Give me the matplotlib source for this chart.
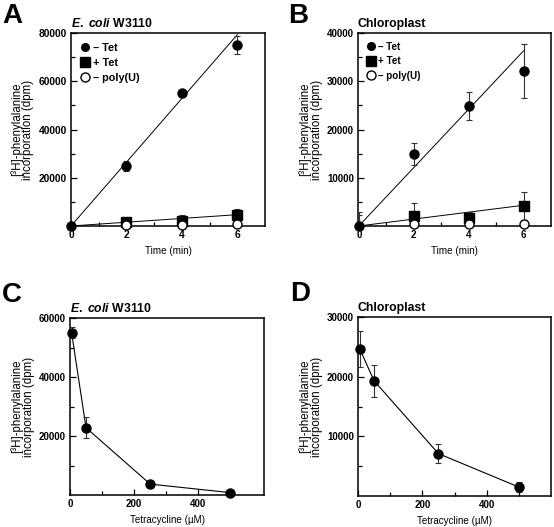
import numpy as np
import matplotlib.pyplot as plt
from matplotlib.lines import Line2D

plt.rcParams['font.family'] = ['Liberation Sans', 'DejaVu Sans']
plt.rcParams['font.weight'] = 'bold'
plt.rcParams['mathtext.fontset'] = 'custom'
plt.rcParams['mathtext.it'] = 'Liberation Sans:italic:bold'
plt.rcParams['mathtext.rm'] = 'Liberation Sans:bold'

# A: E. coli W3110, time course
time = [0, 2, 4, 6]
a_minus_tet = [0, 25000, 55000, 75000]
a_minus_tet_err = [0, 2000, 1500, 3800]
a_plus_tet = [0, 1800, 2000, 4500]
a_plus_tet_err = [0, 0, 2500, 2500]
a_polyu = [None, 300, 300, 800]
a_fit_minus = [0, 79300]
a_fit_plus = [0, 4700]

# B: Chloroplast, time course
b_minus_tet = [0, 15000, 24800, 32200]
b_minus_tet_err = [2900, 2300, 2900, 5600]
b_plus_tet = [0, 2000, 1700, 4200]
b_plus_tet_err = [2300, 2700, 1200, 2900]
b_polyu = [None, 400, 400, 500]
b_fit_minus = [0, 36300]
b_fit_plus = [0, 4300]

# C, D: tetracycline dose
tet_conc = [5, 50, 250, 500]
c_vals = [55000, 22800, 3700, 800]
c_err = [1800, 3600, 1200, 300]
d_vals = [24700, 19300, 7100, 1500]
d_err = [3000, 2700, 1600, 900]

ylab = '[³H]-phenylalanine\nincorporation (dpm)'
W, H = 554, 527
fig = plt.figure(figsize=(W/100, H/100), dpi=100)

def add_ax(l, r, t, b):
    return fig.add_axes([l/W, 1-b/H, (r-l)/W, (b-t)/H])

def style(ax, xlim, ylim, xmaj, xmin, ymaj, ymin, xlabel, ts=7):
    ax.set_xlim(*xlim); ax.set_ylim(*ylim)
    ax.set_xticks(xmaj); ax.set_xticks(xmin, minor=True)
    ax.set_yticks(ymaj); ax.set_yticks(ymin, minor=True)
    ax.tick_params(direction='in', length=4, width=0.9, labelsize=ts, pad=3)
    ax.tick_params(which='minor', direction='in', length=3, width=0.9)
    for s in ax.spines.values():
        s.set_linewidth(1.1)
    ax.set_xlabel(xlabel, fontsize=7.1, labelpad=4)
    ax.set_ylabel(ylab, fontsize=8.3, labelpad=3, linespacing=0.95)

mk = dict(markersize=6.5, color='black', clip_on=False, zorder=5)
eb = dict(fmt='none', ecolor='#333333', elinewidth=0.8, capsize=2.5, capthick=0.8, zorder=4)

def time_panel(ax, mt, mte, pt, pte, pu, fm, fp, fs):
    ax.plot([0, 6], fm, color='black', lw=0.7)
    ax.plot([0, 6], fp, color='black', lw=0.7)
    ax.errorbar(time, mt, yerr=mte, **eb)
    ax.errorbar(time, pt, yerr=pte, **eb)
    ax.plot(time, mt, 'o', linestyle='none', **mk)
    ax.plot(time[1:], pt[1:], 's', linestyle='none', **mk)
    ax.plot(time[1:], pu[1:], 'o', linestyle='none', markerfacecolor='white',
            markeredgewidth=1.0, markersize=6.5, color='black', clip_on=False, zorder=6)
    handles = [Line2D([], [], marker='o', color='black', ls='none', markersize=5.5),
               Line2D([], [], marker='s', color='black', ls='none', markersize=6.5),
               Line2D([], [], marker='o', color='black', ls='none', markersize=6.5,
                      markerfacecolor='white')]
    ax.legend(handles, ['– Tet', '+ Tet', '– poly(U)'], loc='upper left', frameon=False,
              fontsize=fs, handlelength=0.8, handletextpad=0.3, labelspacing=0.45,
              borderaxespad=0.5, borderpad=0.4)

def dose_panel(ax, vals, err):
    ax.plot(tet_conc, vals, color='black', lw=0.8, zorder=3)
    ax.errorbar(tet_conc, vals, yerr=err, **eb)
    ax.plot(tet_conc, vals, 'o', linestyle='none', **mk)

ecoli = r'$\mathit{E.}$ $\mathit{coli}$ W3110'

axA = add_ax(71, 265, 33, 226)
time_panel(axA, a_minus_tet, a_minus_tet_err, a_plus_tet, a_plus_tet_err, a_polyu,
           a_fit_minus, a_fit_plus, 7.8)
style(axA, (0, 7), (0, 80000), [0, 2, 4, 6], [1, 3, 5],
      [20000, 40000, 60000, 80000], [10000, 30000, 50000, 70000], 'Time (min)', ts=7.4)
axA.set_title(ecoli, loc='left', fontsize=8.8, fontweight='bold', pad=4)

axB = add_ax(358, 551, 33, 226)
time_panel(axB, b_minus_tet, b_minus_tet_err, b_plus_tet, b_plus_tet_err, b_polyu,
           b_fit_minus, b_fit_plus, 7.1)
style(axB, (-0.03, 7), (0, 40000), [0, 2, 4, 6], [1, 3, 5],
      [10000, 20000, 30000, 40000], [5000, 15000, 25000, 35000], 'Time (min)')
axB.set_title('Chloroplast', loc='left', fontsize=8.8, fontweight='bold', pad=4)

axC = add_ax(70, 264, 318, 495)
dose_panel(axC, c_vals, c_err)
style(axC, (0, 605), (0, 60000), [0, 200, 400], [100, 300, 500],
      [20000, 40000, 60000], [10000, 30000, 50000], 'Tetracycline (µM)')
axC.set_title(ecoli, loc='left', fontsize=8.8, fontweight='bold', pad=4)

axD = add_ax(358, 551, 317, 496)
dose_panel(axD, d_vals, d_err)
style(axD, (0, 600), (0, 30000), [0, 200, 400], [100, 300, 500],
      [10000, 20000, 30000], [5000, 15000, 25000], 'Tetracycline (µM)')
axD.set_title('Chloroplast', loc='left', fontsize=8.8, fontweight='bold', pad=4)

for lab, x, y in [('A', 2, 3), ('B', 288, 3), ('C', 2, 282), ('D', 290, 281)]:
    fig.text(x/W, 1-y/H, lab, fontsize=20, fontweight='bold', va='top', ha='left')

fig.savefig('out.png', dpi=100)
